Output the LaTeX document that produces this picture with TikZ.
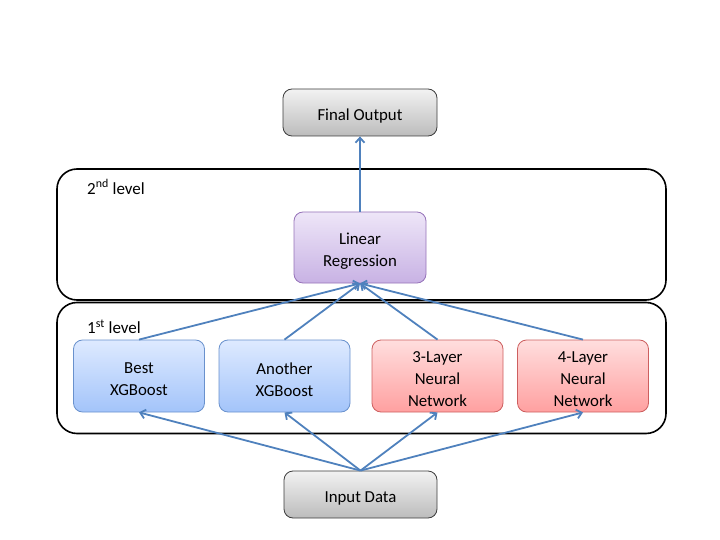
\documentclass[tikz,border=0pt]{standalone}
\usepackage{fontspec}
\setmainfont{Carlito}
\usetikzlibrary{arrows.meta}
\definecolor{arrowblue}{RGB}{79,129,189}
\definecolor{bluetop}{RGB}{222,234,255}
\definecolor{bluebot}{RGB}{163,196,250}
\definecolor{blueline}{RGB}{105,145,205}
\definecolor{redtop}{RGB}{255,222,222}
\definecolor{redbot}{RGB}{255,160,160}
\definecolor{redline}{RGB}{205,95,95}
\definecolor{purtop}{RGB}{238,230,248}
\definecolor{purbot}{RGB}{200,178,228}
\definecolor{purline}{RGB}{150,115,185}
\definecolor{graytop}{RGB}{242,242,242}
\definecolor{graybot}{RGB}{188,188,188}
\definecolor{grayline}{RGB}{60,60,60}
\tikzset{
  box/.style={rounded corners=9pt, minimum width=131pt, minimum height=72pt, inner sep=0pt, line width=0.8pt},
  boxtext/.style={align=center, font=\fontsize{16.8}{22}\selectfont, inner sep=0pt, yshift=-3.5pt},
  bluebox/.style={box, draw=blueline, top color=bluetop, bottom color=bluebot},
  redbox/.style={box, draw=redline, top color=redtop, bottom color=redbot},
  purbox/.style={box, draw=purline, top color=purtop, bottom color=purbot},
  graybox/.style={box, minimum width=154pt, minimum height=47pt, draw=grayline, top color=graytop, bottom color=graybot},
  container/.style={draw=black, line width=1.6pt, rounded corners=20pt, minimum width=609pt, minimum height=131pt, inner sep=0pt},
  lvl/.style={font=\fontsize{17}{20}\selectfont, anchor=west, inner sep=0pt},
  conn/.style={draw=arrowblue, line width=1.8pt, -{Straight Barb[length=5pt,width=9pt]}},
}
\begin{document}
\begin{tikzpicture}[x=1pt,y=-1pt]
\useasboundingbox (0,0) rectangle (720,540);
\node[container] (lvltwo) at (361.5,234.5) {};
\node[container] (lvlone) at (361.5,368) {};
\node[lvl] (lbltwo) at (87,187) {2\textsuperscript{nd} level};
\node[lvl] (lblone) at (87,327) {1\textsuperscript{st} level};
\node[graybox] (final) at (360,112.5) {};
\node[purbox, minimum width=132pt, minimum height=71pt] (lr) at (360,247.5) {};
\node[bluebox] (bx) at (139,376) {};
\node[bluebox] (ax) at (284.5,376) {};
\node[redbox] (n3) at (437.5,376) {};
\node[redbox] (n4) at (583,376) {};
\node[graybox, minimum width=153pt] (input) at (360.5,494.5) {};
\node[boxtext] (finaltext) at (final.center) {Final Output};
\node[boxtext] (lrtext) at (lr.center) {Linear\\Regression};
\node[boxtext] (bxtext) at (bx.center) {Best\\XGBoost};
\node[boxtext] (axtext) at (ax.center) {Another\\XGBoost};
\node[boxtext] (n3text) at (n3.center) {3-Layer\\Neural\\Network};
\node[boxtext] (n4text) at (n4.center) {4-Layer\\Neural\\Network};
\node[boxtext] (inputtext) at (input.center) {Input Data};
\draw[conn] (lr.north) -- (final.south);
\foreach \n in {bx,ax,n3,n4}{
  \draw[conn] (\n.north) -- (lr.south);
  \draw[conn] (input.north) -- (\n.south);
}
\end{tikzpicture}
\end{document}
